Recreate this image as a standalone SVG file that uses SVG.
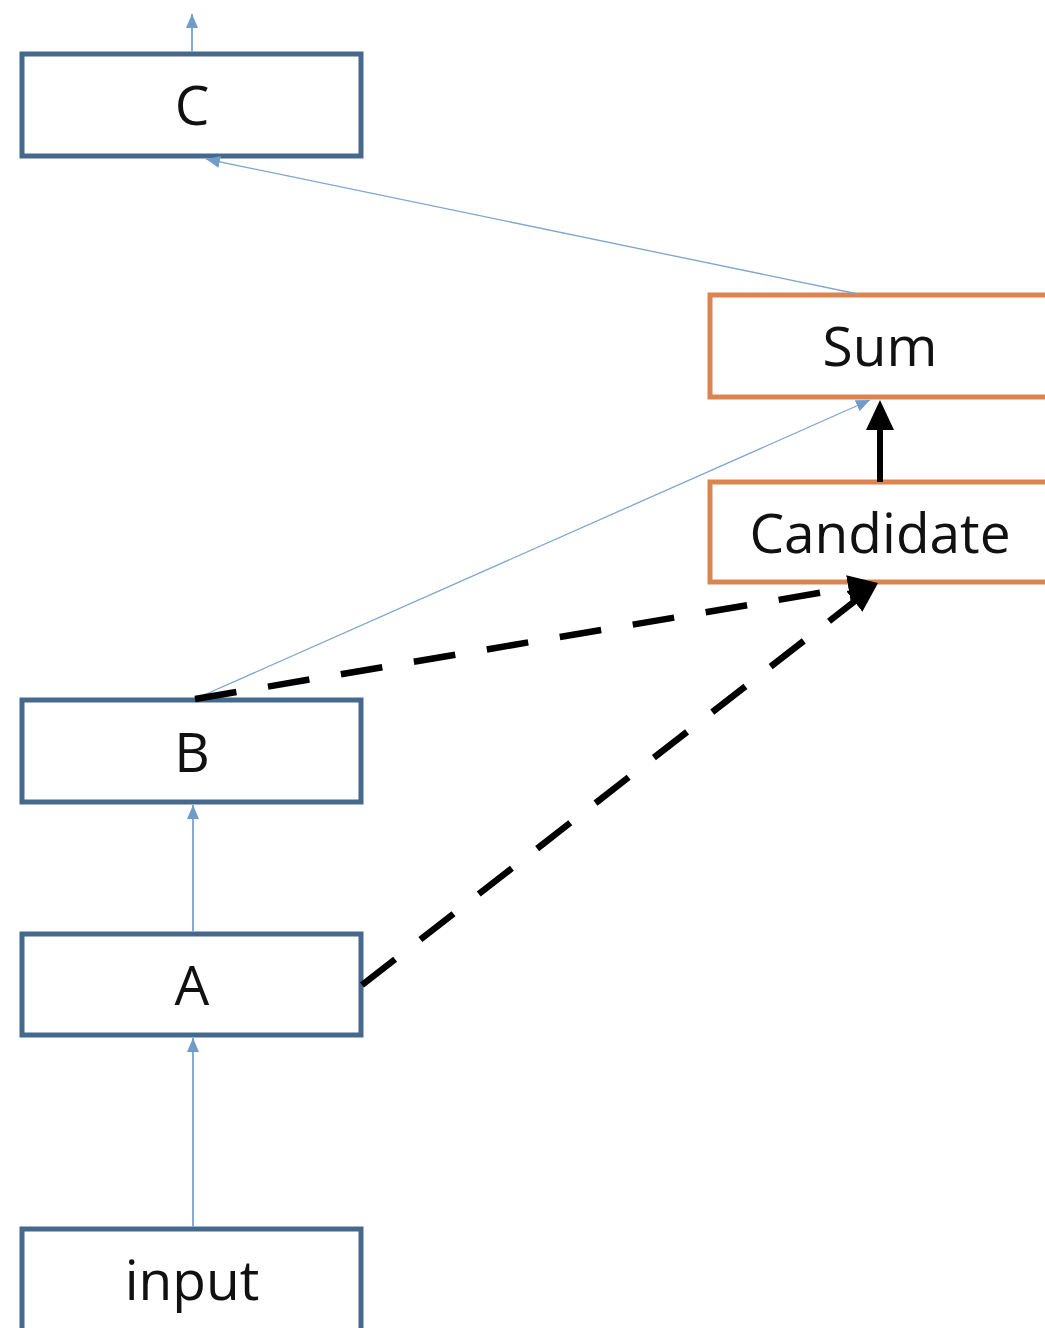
<svg xmlns="http://www.w3.org/2000/svg" width="1045" height="1328" viewBox="0 0 1045 1328">
  <style>
    .box-blue { fill: #ffffff; stroke: #44698c; stroke-width: 5; }
    .box-orange { fill: #ffffff; stroke: #dc8450; stroke-width: 5; }
    .label { font-family: "Open Sans", "Liberation Sans", sans-serif; font-size: 55px; fill: #111111; text-anchor: middle; }
    .thin { stroke: #7ea6cf; stroke-width: 1.3; fill: none; marker-end: url(#blueArrow); }
    .vert { stroke: #86abd2; stroke-width: 2; fill: none; marker-end: url(#blueArrow); }
    .dashed { stroke: #000000; stroke-width: 6.5; fill: none; stroke-dasharray: 42 32; marker-end: url(#blackArrowDash); }
    .solid { stroke: #000000; stroke-width: 6; fill: none; marker-end: url(#blackArrow); }
  </style>
  <defs>
    <marker id="blueArrow" markerUnits="userSpaceOnUse" markerWidth="14" markerHeight="12" refX="14" refY="6" orient="auto">
      <path d="M0,0 L14,6 L0,12 z" fill="#6f9cc9"/>
    </marker>
    <marker id="blackArrow" markerUnits="userSpaceOnUse" markerWidth="30" markerHeight="28" refX="6" refY="14" orient="auto">
      <path d="M0,0 L30,14 L0,28 z" fill="#000000"/>
    </marker>
    <marker id="blackArrowDash" markerUnits="userSpaceOnUse" markerWidth="30" markerHeight="26" refX="6" refY="13" orient="auto">
      <path d="M0,0 L30,13 L0,26 z" fill="#000000"/>
    </marker>
  </defs>

  <rect width="1045" height="1328" fill="#ffffff"/>

  <g id="node-C">
    <rect class="box-blue" x="22" y="54" width="339" height="102"/>
    <text class="label" x="192" y="125">C</text>
  </g>
  <g id="node-Sum">
    <rect class="box-orange" x="710" y="295" width="340" height="102"/>
    <text class="label" x="880" y="366">Sum</text>
  </g>
  <g id="node-Candidate">
    <rect class="box-orange" x="710" y="482" width="340" height="100"/>
    <text class="label" x="880" y="553">Candidate</text>
  </g>
  <g id="node-B">
    <rect class="box-blue" x="22" y="700" width="339" height="102"/>
    <text class="label" x="192" y="772">B</text>
  </g>
  <g id="node-A">
    <rect class="box-blue" x="22" y="934" width="339" height="101"/>
    <text class="label" x="192" y="1005">A</text>
  </g>
  <g id="node-input">
    <rect class="box-blue" x="22" y="1229" width="339" height="103"/>
    <text class="label" x="192" y="1300">input</text>
  </g>

  <g id="connectors">
    <!-- C output -->
    <line class="vert" x1="192" y1="52" x2="192" y2="14"/>
    <!-- Sum to C -->
    <line class="thin" x1="858" y1="294" x2="206" y2="159"/>
    <!-- B to Sum -->
    <line class="thin" x1="195" y1="699" x2="870" y2="400"/>
    <!-- A to B -->
    <line class="vert" x1="193" y1="932" x2="193" y2="805"/>
    <!-- input to A -->
    <line class="vert" x1="193" y1="1227" x2="193" y2="1038"/>
    <!-- Candidate to Sum -->
    <line class="solid" x1="880" y1="482" x2="880" y2="424"/>
    <!-- B to Candidate -->
    <line class="dashed" x1="195" y1="699" x2="854.3" y2="587"/>
    <!-- A to Candidate -->
    <line class="dashed" x1="362" y1="985" x2="859.1" y2="597.8"/>
  </g>
</svg>
